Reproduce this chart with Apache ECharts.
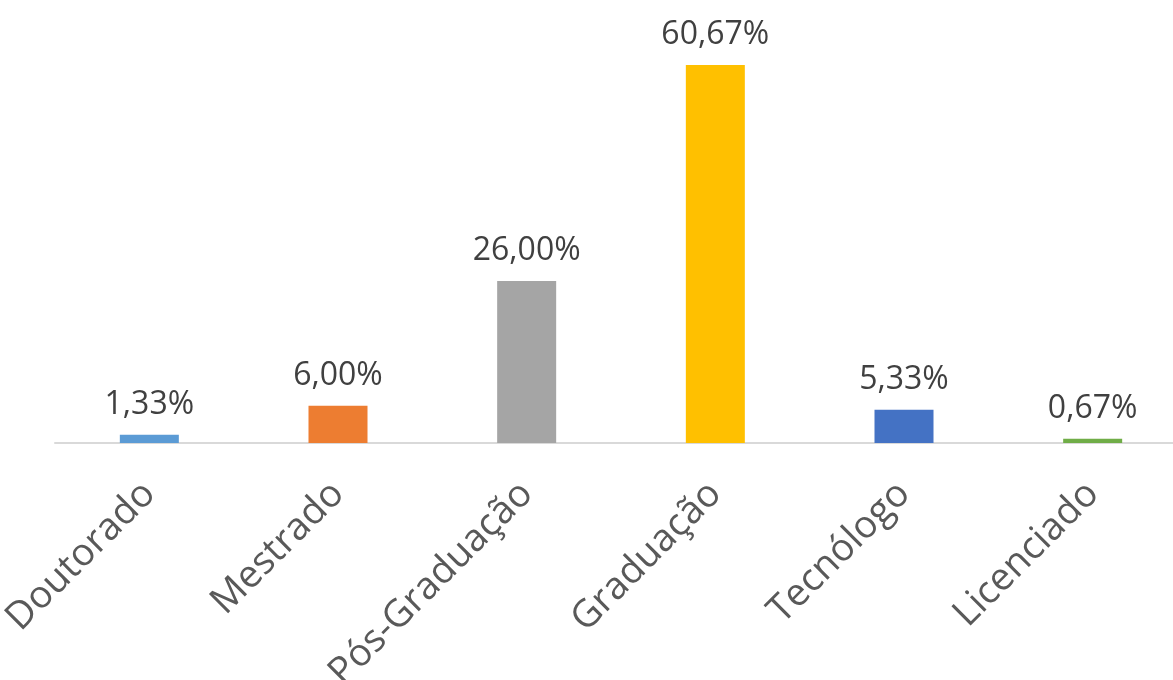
<!DOCTYPE html>
<html>
<head>
<meta charset="utf-8">
<script src="https://cdn.jsdelivr.net/npm/echarts@6/dist/echarts.min.js"></script>
<style>
  html, body { margin: 0; padding: 0; background: #fff; }
  #chart { width: 1173px; height: 680px; }
</style>
</head>
<body>
<div id="chart"></div>
<script>
// Titulação dos profissionais (%)
const categories = ['Doutorado', 'Mestrado', 'Pós-Graduação', 'Graduação', 'Tecnólogo', 'Licenciado'];
const values = [1.33, 6.00, 26.00, 60.67, 5.33, 0.67];
const barColors = ['#5B9BD5', '#ED7D31', '#A5A5A5', '#FFC000', '#4472C4', '#70AD47'];

const chart = echarts.init(document.getElementById('chart'), null, { renderer: 'canvas' });

chart.setOption({
  animation: false,
  grid: {
    left: 55, top: 7, width: 1132, bottom: 237,
    containLabel: false,
    outerBoundsMode: 'none'
  },
  xAxis: {
    type: 'category',
    data: categories,
    axisLine: { show: true, lineStyle: { color: '#D9D9D9', width: 2 } },
    axisTick: { show: false },
    axisLabel: {
      rotate: 45,
      interval: 0,
      margin: 45,
      color: '#595959',
      fontSize: 38,
      fontFamily: 'Open Sans'
    }
  },
  yAxis: {
    type: 'value',
    min: 0,
    max: 70,
    show: false,
    splitLine: { show: false }
  },
  series: [{
    type: 'bar',
    barWidth: 59,
    data: values.map((v, i) => ({ value: v, itemStyle: { color: barColors[i] } })),
    label: {
      show: true,
      position: 'top',
      distance: 14,
      color: '#404040',
      fontSize: 32,
      fontFamily: 'Open Sans',
      formatter: p => p.value.toFixed(2).replace('.', ',') + '%'
    }
  }]
});
</script>
</body>
</html>
